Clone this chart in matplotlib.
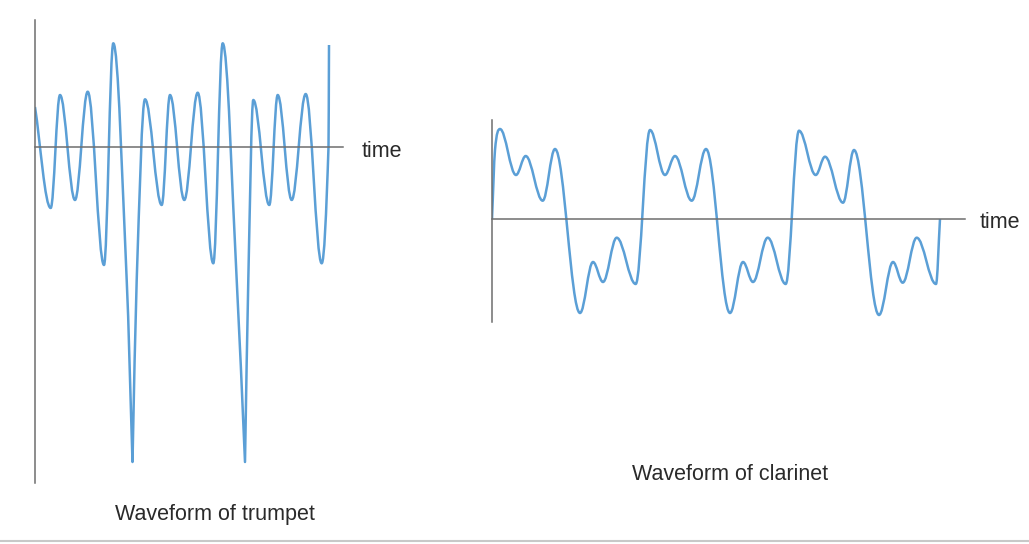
import matplotlib.pyplot as plt
from matplotlib.path import Path
from matplotlib.patches import PathPatch
from matplotlib.lines import Line2D

plt.rcParams['font.family'] = ['Liberation Sans', 'DejaVu Sans']

# Trumpet waveform: turning points
# t = time (px from the vertical axis), a = amplitude (px above the time axis)
# kind: 'e' = smooth extremum, 's' = smooth point on a flank, 'c' = sharp corner / end
trumpet_t = [0, 15.7, 25, 40, 52.7, 69, 78.3, 91.7, 97.5, 101.7, 110, 126.7, 135,
             149.3, 162.7, 178.3, 187.7, 201.7, 210, 213.3, 218.3, 234.3, 242.7,
             256.7, 270.7, 286.7, 293.5, 294]
trumpet_a = [40, -61, 52, -53, 55.3, -118, 103.7, -133, -315, -133, 47.7, -58, 52,
             -53, 54.3, -116.3, 103.7, -133, -315, -133, 47, -58, 52,
             -53, 53, -116.3, 0, 102]
trumpet_kind = ['c', 'e', 'e', 'e', 'e', 'e', 'e', 's', 'c', 's', 'e', 'e', 'e',
                'e', 'e', 'e', 'e', 's', 'c', 's', 'e', 'e', 'e',
                'e', 'e', 'e', 's', 'c']

# Clarinet waveform
clarinet_t = [0, 3, 8, 24, 33.7, 50.7, 63, 88, 101, 111, 124.7, 143.7, 158, 173,
              183, 199.7, 214, 238, 251, 261, 275.7, 293.7, 307, 323.7, 333, 351,
              362, 387, 401, 410.7, 424.7, 444, 448]
clarinet_a = [0, 69, 90, 44, 63, 18.3, 70, -94, -43, -63, -18.7, -65, 89, 44,
              63, 18.3, 70, -94, -43, -63, -18.7, -65, 88.3, 44, 62.3, 16.3,
              69, -96, -43, -63.7, -18.7, -65, 0]
clarinet_kind = ['c', 's'] + ['e'] * 30 + ['c']

captions = ['Waveform of trumpet', 'Waveform of clarinet']
axis_label = 'time'

W, H = 1029, 544
blue = '#5b9fd6'
axis_col = '#6e6e6e'
text_col = '#2a2a2a'


def wave_path(t, a, kind):
    # smooth cubic curve through the read points
    n = len(t)
    s_in = [0.0] * n
    s_out = [0.0] * n
    for i in range(n):
        if kind[i] == 's':
            s = (a[i + 1] - a[i - 1]) / (t[i + 1] - t[i - 1])
            s_in[i] = s_out[i] = s
        elif kind[i] == 'c':
            if i > 0:
                s_in[i] = (a[i] - a[i - 1]) / (t[i] - t[i - 1])
            if i < n - 1:
                s_out[i] = (a[i + 1] - a[i]) / (t[i + 1] - t[i])
    verts = [(t[0], a[0])]
    codes = [Path.MOVETO]
    for i in range(n - 1):
        h = t[i + 1] - t[i]
        # sine-like handles at extrema, plain hermite elsewhere
        k0 = 0.364 if kind[i] == 'e' else 1 / 3
        k1 = 0.364 if kind[i + 1] == 'e' else 1 / 3
        verts += [(t[i] + k0 * h, a[i] + s_out[i] * h / 3),
                  (t[i + 1] - k1 * h, a[i + 1] - s_in[i + 1] * h / 3),
                  (t[i + 1], a[i + 1])]
        codes += [Path.CURVE4] * 3
    return Path(verts, codes)


def make_axes(fig, x0, x1, y0, y1, zero_y):
    # x0..x1, y0..y1 in pixels of the picture, zero_y = pixel row of the time axis
    ax = fig.add_axes([x0 / W, 1 - y1 / H, (x1 - x0) / W, (y1 - y0) / H])
    ax.set_xlim(0, x1 - x0)
    ax.set_ylim(zero_y - y1, zero_y - y0)
    ax.patch.set_visible(False)
    for side in ['top', 'right']:
        ax.spines[side].set_visible(False)
    ax.spines['bottom'].set_position(('data', 0))
    for side in ['left', 'bottom']:
        ax.spines[side].set_color(axis_col)
        ax.spines[side].set_linewidth(1.1)
    ax.set_xticks([])
    ax.set_yticks([])
    return ax


fig = plt.figure(figsize=(W / 100, H / 100), dpi=100)
fig.patch.set_facecolor('white')

ax1 = make_axes(fig, 35, 343, 20, 483, 147)
ax1.add_patch(PathPatch(wave_path(trumpet_t, trumpet_a, trumpet_kind),
                        facecolor='none', edgecolor=blue, lw=1.8, joinstyle='round'))
ax1.annotate(axis_label, xy=(1, 0), xycoords=('axes fraction', 'data'),
             xytext=(19, -10), textcoords='offset pixels', va='baseline',
             fontsize=15.5, color=text_col)

ax2 = make_axes(fig, 492, 965, 120, 322, 219)
ax2.add_patch(PathPatch(wave_path(clarinet_t, clarinet_a, clarinet_kind),
                        facecolor='none', edgecolor=blue, lw=1.8, joinstyle='round'))
ax2.annotate(axis_label, xy=(1, 0), xycoords=('axes fraction', 'data'),
             xytext=(15, -9), textcoords='offset pixels', va='baseline',
             fontsize=15.5, color=text_col)

fig.text(215 / W, 1 - 520 / H, captions[0], ha='center', va='baseline',
         fontsize=15.5, color=text_col)
fig.text(730 / W, 1 - 480 / H, captions[1], ha='center', va='baseline',
         fontsize=15.5, color=text_col)

# faint scan edge along the bottom
fig.add_artist(Line2D([0, 1], [1 - 541 / H, 1 - 541 / H], transform=fig.transFigure,
                      color='#c8c8c8', lw=1.5))

fig.savefig('out.png', dpi=100)
